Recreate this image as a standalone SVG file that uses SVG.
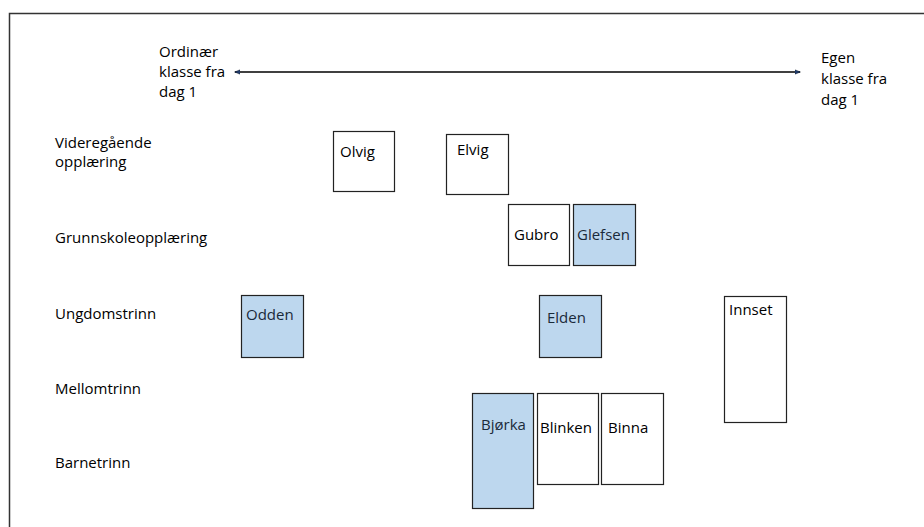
<svg xmlns="http://www.w3.org/2000/svg" width="924" height="527" viewBox="0 0 924 527">
<defs>
<style>
text{font-family:"Open Sans","Liberation Sans",sans-serif;font-size:15px;fill:#000}
.box{fill:#fff;stroke:#222;stroke-width:1.2}
.blue{fill:#BDD7EE;stroke:#222;stroke-width:1.2}
.bt{fill:#1a2a3a}
</style>
<marker id="ah" viewBox="0 0 10 10" refX="9" refY="5" markerWidth="6" markerHeight="6" orient="auto-start-reverse" markerUnits="userSpaceOnUse">
<path d="M0,1 L10,5 L0,9 Z" fill="#1f3a6a" stroke="#000" stroke-width="0.5"/>
</marker>
</defs>
<rect width="924" height="527" fill="#fff"/>
<path d="M9.5,527 V13.5 H924" fill="none" stroke="#333" stroke-width="1.5"/>
<g id="axis-labels">
<text x="159" y="57">Ordinær</text>
<text x="159" y="77">klasse fra</text>
<text x="159" y="97">dag 1</text>
<text x="821" y="63">Egen</text>
<text x="821" y="84">klasse fra</text>
<text x="821" y="105">dag 1</text>
</g>
<g id="level-labels">
<text x="55" y="148">Videregående</text>
<text x="55" y="167">opplæring</text>
<text x="55" y="243">Grunnskoleopplæring</text>
<text x="55" y="319">Ungdomstrinn</text>
<text x="55" y="394">Mellomtrinn</text>
<text x="55" y="468">Barnetrinn</text>
</g>
<g id="connectors">
<line x1="235" y1="72" x2="800" y2="72" stroke="#000" stroke-width="1.3" marker-start="url(#ah)" marker-end="url(#ah)"/>
</g>
<g id="olvig"><rect class="box" x="333.5" y="131.5" width="61" height="60"/><text x="340" y="157">Olvig</text></g>
<g id="elvig"><rect class="box" x="446.5" y="134.5" width="62" height="60"/><text x="457" y="155">Elvig</text></g>
<g id="gubro"><rect class="box" x="508.5" y="204.5" width="61" height="61"/><text x="514" y="240">Gubro</text></g>
<g id="glefsen"><rect class="blue" x="573.5" y="204.5" width="62" height="61"/><text class="bt" x="577" y="240">Glefsen</text></g>
<g id="odden"><rect class="blue" x="241.5" y="295.5" width="62" height="62"/><text class="bt" x="246" y="320">Odden</text></g>
<g id="elden"><rect class="blue" x="539.5" y="295.5" width="62" height="62"/><text class="bt" x="547" y="323">Elden</text></g>
<g id="innset"><rect class="box" x="724.5" y="296.5" width="62" height="126"/><text x="729" y="315">Innset</text></g>
<g id="bjorka"><rect class="blue" x="472.5" y="393.5" width="61" height="115"/><text class="bt" x="481" y="430">Bjørka</text></g>
<g id="blinken"><rect class="box" x="537.5" y="393.5" width="61" height="91"/><text x="540" y="433">Blinken</text></g>
<g id="binna"><rect class="box" x="601.5" y="393.5" width="62" height="91"/><text x="608" y="433">Binna</text></g>
</svg>
